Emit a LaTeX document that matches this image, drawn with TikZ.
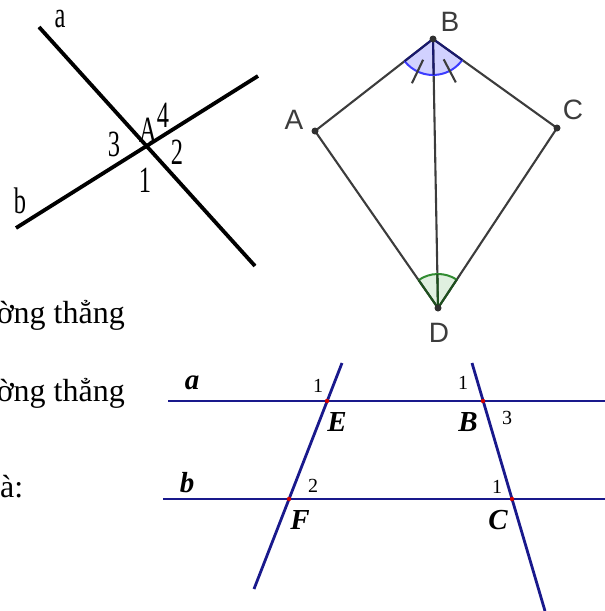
\documentclass[tikz,border=0pt]{standalone}
\usepackage{fontspec}
\usepackage{graphicx}
\setmainfont{Liberation Serif}
\newfontfamily\geofont{Liberation Sans}
\usetikzlibrary{calc,angles}
\definecolor{kgray}{RGB}{60,60,60}
\definecolor{knavy}{RGB}{25,25,110}
\definecolor{kgreen}{RGB}{30,80,30}
\definecolor{arcblue}{RGB}{60,60,255}
\definecolor{arcgreen}{RGB}{50,140,50}
\definecolor{navyline}{RGB}{25,25,140}
\definecolor{ptred}{RGB}{210,0,0}
\tikzset{
  blackline/.style={line width=3.8pt, black},
  lblone/.style={inner sep=0pt, font=\fontsize{37}{37}\selectfont},
  kiteseg/.style={line width=2.1pt, kgray},
  kitelbl/.style={inner sep=0pt, text=kgray, font=\geofont\fontsize{28}{28}\selectfont},
  kpt/.style={fill=kgray!80!black},
  pline/.style={line width=2.8pt, navyline},
  plbl/.style={inner sep=0pt, font=\fontsize{29}{29}\selectfont\bfseries\itshape},
  pnum/.style={inner sep=0pt, font=\fontsize{20}{20}\selectfont},
  txt/.style={inner sep=0pt, font=\fontsize{32}{36}\selectfont}
}
\begin{document}
\begin{tikzpicture}[x=1pt,y=-1pt]
\useasboundingbox (0,0) rectangle (605,611);
% ---------- figure 1 ----------
\coordinate (a1) at (39,27);
\coordinate (a2) at (255,266);
\coordinate (b1) at (16,228);
\coordinate (b2) at (258,76);
\draw[blackline] (a1) -- (a2);
\draw[blackline] (b1) -- (b2);
\node[lblone] (la) at (60,19) {\scalebox{0.66}[1]{a}};
\node[lblone] (lb) at (20,201) {\scalebox{0.66}[1]{b}};
\node[lblone] (lA) at (148,130) {\scalebox{0.66}[1]{A}};
\node[lblone] (l4) at (163,115) {\scalebox{0.66}[1]{4}};
\node[lblone] (l3) at (114,144) {\scalebox{0.66}[1]{3}};
\node[lblone] (l2) at (177,152) {\scalebox{0.66}[1]{2}};
\node[lblone] (l1) at (145,180) {\scalebox{0.66}[1]{1}};
% ---------- figure 2 (kite) ----------
\coordinate (KA) at (315,131);
\coordinate (KB) at (433,39);
\coordinate (KC) at (557,128);
\coordinate (KD) at (438,308);
\pic[fill=blue!18, angle radius=36pt] {angle=KA--KB--KC};
\pic[fill=green!50!black!12, angle radius=34pt] {angle=KC--KD--KA};
\draw[kiteseg] (KA) -- (KB) -- (KC) -- (KD) -- cycle;
\draw[kiteseg] (KB) -- (KD);
\pic[draw=arcblue, line width=2pt, angle radius=36pt] {angle=KA--KB--KC};
\pic[draw=arcgreen, line width=2pt, angle radius=34pt] {angle=KC--KD--KA};
\draw[line width=2.1pt, knavy] ($(KB)!36pt!(KA)$) -- (KB) -- ($(KB)!36pt!(KC)$);
\draw[line width=2.1pt, knavy] (KB) -- ($(KB)!36pt!(KD)$);
\draw[line width=2.1pt, kgreen] ($(KD)!34pt!(KA)$) -- (KD) -- ($(KD)!34pt!(KC)$);
\draw[line width=2.1pt, kgreen] (KD) -- ($(KD)!34pt!(KB)$);
\draw[kiteseg] ($(KB)!23pt!26.6:(KA)$) -- ($(KB)!49pt!26.6:(KA)$);
\draw[kiteseg] ($(KB)!23pt!-26.6:(KC)$) -- ($(KB)!49pt!-26.6:(KC)$);
\foreach \p in {KA,KB,KC,KD} \fill[kpt] (\p) circle (3.5pt);
\node[kitelbl] (tA) at (294,120) {A};
\node[kitelbl] (tB) at (450,22) {B};
\node[kitelbl] (tC) at (573,110) {C};
\node[kitelbl] (tD) at (439,333) {D};
% ---------- text fragments ----------
\begin{scope}
\clip (0,0) rectangle (160,611);
\node[txt, anchor=base east] (t1) at (125,323) {ờng thẳng};
\node[txt, anchor=base east] (t2) at (125,401) {ờng thẳng};
\node[txt, anchor=base west] (t3) at (0,497) {à:};
\end{scope}
% ---------- figure 3 (parallels) ----------
\coordinate (E) at (327,401);
\coordinate (F) at (289,499);
\coordinate (B) at (483,401);
\coordinate (C) at (512,499);
\coordinate (aL) at (168,401);
\coordinate (aR) at (605,401);
\coordinate (bL) at (163,499);
\coordinate (bR) at (605,499);
\coordinate (eT) at (342,363);
\coordinate (fB) at (254,589);
\coordinate (bT) at (472,363);
\coordinate (cB) at (545,611);
\draw[pline] (aL) -- (aR);
\draw[pline] (bL) -- (bR);
\draw[pline] (eT) -- (fB);
\draw[pline] (bT) -- (cB);
\foreach \p in {E,F,B,C} \fill[ptred] (\p) circle (2.2pt);
\node[plbl] (pa) at (192,383) {a};
\node[plbl] (pb) at (187,483) {b};
\node[plbl] (pE) at (337,422) {E};
\node[plbl] (pB) at (468,422) {B};
\node[plbl] (pF) at (300,520) {F};
\node[plbl] (pC) at (498,520) {C};
\node[pnum] (n1) at (318,386) {1};
\node[pnum] (n2) at (463,383) {1};
\node[pnum] (n3) at (507,418) {3};
\node[pnum] (n4) at (313,486) {2};
\node[pnum] (n5) at (497,487) {1};
\end{tikzpicture}
\end{document}
